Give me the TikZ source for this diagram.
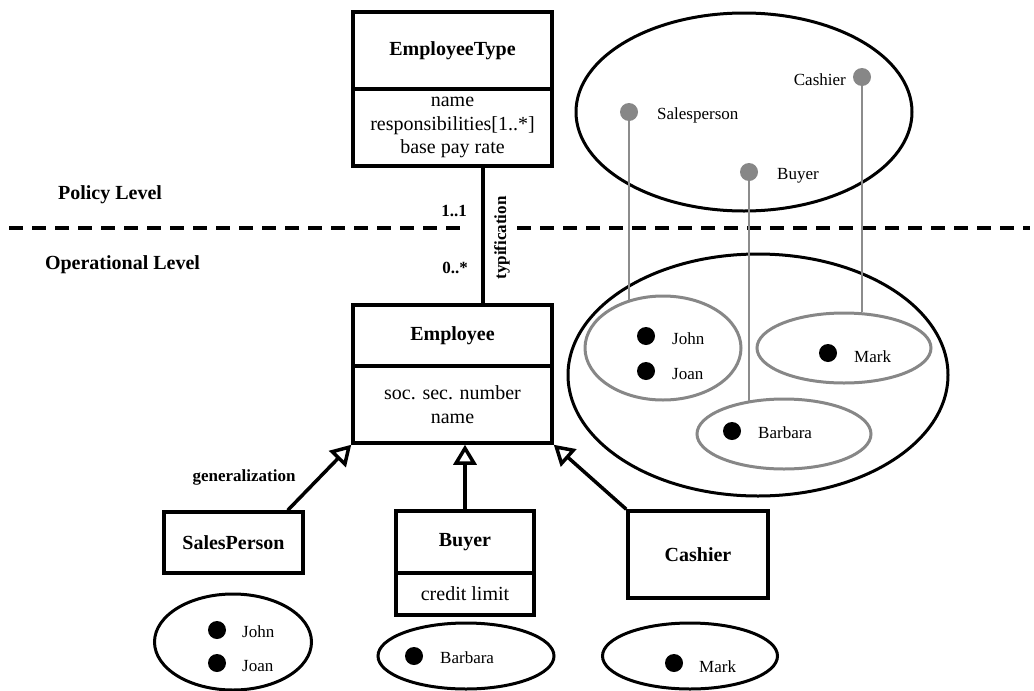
\documentclass[tikz,border=0pt]{standalone}
\usepackage{fontspec}
\setmainfont{Liberation Serif}
\usetikzlibrary{shapes.geometric,arrows.meta,calc}
\definecolor{setgray}{gray}{0.53}
\definecolor{linkgray}{gray}{0.55}
\begin{document}
\begin{tikzpicture}[x=1pt,y=-1pt,
  clshead/.style={draw, line width=3.5pt, inner sep=0pt, font=\bfseries\fontsize{20}{24}\selectfont},
  clsattr/.style={draw, line width=3.5pt, inner sep=0pt, align=center, font=\fontsize{20}{23.5}\selectfont},
  levellbl/.style={font=\bfseries\fontsize{20}{24}\selectfont},
  lbl/.style={font=\bfseries\fontsize{17}{20}\selectfont, inner sep=0pt},
  inst/.style={font=\fontsize{17}{20}\selectfont, inner sep=0pt, anchor=west},
  obj/.style={circle, fill=black, minimum size=18pt, inner sep=0pt},
  typeobj/.style={circle, fill=setgray, minimum size=18pt, inner sep=0pt},
  setell/.style={ellipse, draw, line width=3pt, inner sep=0pt},
  subset/.style={ellipse, draw=setgray, line width=3pt, inner sep=0pt},
  levelline/.style={line width=4.5pt, dash pattern=on 14pt off 9pt},
  assoc/.style={line width=3.5pt},
  gen/.style={line width=3.5pt, -{Triangle[open, length=20pt, width=23pt]}},
  link/.style={draw=linkgray, line width=1.2pt}]
\useasboundingbox (0,0) rectangle (1034,691);

% policy / operational separator
\draw[levelline] (9,228) -- (466,228);
\draw[levelline] (517,228) -- (1030,228);
\node[levellbl] (policy) at (110,195) {Policy Level};
\node[levellbl] (oper) at (122.5,265) {Operational Level};

% classes
\node[clshead, minimum width=199pt, minimum height=77pt] (ethead) at (452.5,50.5) {EmployeeType};
\node[clsattr, minimum width=199pt, minimum height=77pt] (etattr) at (452.5,127.5)
  {name\\responsibilities[1..*]\\base pay rate};
\node[clshead, minimum width=199pt, minimum height=61pt] (emp) at (452.5,335.5) {Employee};
\node[clsattr, minimum width=199pt, minimum height=77pt] (empattr) at (452.5,404.5)
  {soc. sec. number\\name};
\node[clshead, minimum width=139pt, minimum height=61pt] (sp) at (233.5,542.5) {SalesPerson};
\node[clshead, minimum width=138pt, minimum height=62pt] (buyer) at (465,542) {Buyer};
\node[clsattr, minimum width=138pt, minimum height=42pt] (buyerattr) at (465,594) {credit limit};
\node[clshead, minimum width=140pt, minimum height=87pt] (cashier) at (698,554.5) {Cashier};

% typification association
\draw[assoc] ([xshift=30.5pt]etattr.south) -- ([xshift=30.5pt]emp.north);
\node[lbl] (mult11) at (454,211) {1..1};
\node[lbl] (mult0n) at (455,268) {0..*};
\node[lbl, rotate=90] (typ) at (502,238) {typification};

% generalizations
\draw[gen] ([xshift=-17pt]sp.north east) -- (empattr.south west);
\draw[gen] (buyer.north) -- (buyer.north |- empattr.south);
\draw[gen] (cashier.north west) -- (empattr.south east);
\node[lbl] (genlbl) at (244,477) {generalization};

% set of employee types
\node[setell, minimum width=336pt, minimum height=198pt] (typeset) at (744,112) {};
\node[typeobj] (sdot) at (629,112) {};
\node[typeobj] (cdot) at (862,77) {};
\node[typeobj] (bdot) at (749,172) {};
\node[inst] (slbl) at (657,115) {Salesperson};
\node[inst, anchor=east] (clbl) at (846,80) {Cashier};
\node[inst] (blbl) at (777,176) {Buyer};

% set of employees partitioned by type
\node[setell, minimum width=380pt, minimum height=242pt] (opset) at (758,375) {};
\node[subset, minimum width=156pt, minimum height=104pt] (jjset) at (663,348) {};
\node[subset, minimum width=174pt, minimum height=70pt] (markset) at (844,348) {};
\node[subset, minimum width=174pt, minimum height=70pt] (barbset) at (784,434) {};
\node[obj] (johndot) at (646,336) {};
\node[obj] (joandot) at (646,371) {};
\node[obj] (markdot) at (828,353) {};
\node[obj] (barbdot) at (732,431) {};
\node[inst] (johnlbl) at (672,339) {John};
\node[inst] (joanlbl) at (672,374) {Joan};
\node[inst] (marklbl) at (854,357) {Mark};
\node[inst] (barblbl) at (758,433) {Barbara};

\draw[link] (sdot.south) -- (sdot |- jjset.126);
\draw[link] (bdot.south) -- (bdot |- barbset.137.6);
\draw[link] (cdot.south) -- (cdot |- markset.62);

% instances of each subclass
\node[setell, minimum width=157pt, minimum height=96pt] (spset) at (233,642) {};
\node[setell, minimum width=176pt, minimum height=66pt] (bset) at (466,656) {};
\node[setell, minimum width=175pt, minimum height=66pt] (cset) at (690,656) {};
\node[obj] (spjohn) at (217,630) {};
\node[obj] (spjoan) at (217,663) {};
\node[obj] (bbarb) at (414,656) {};
\node[obj] (cmark) at (674,663) {};
\node[inst] (spjohnlbl) at (242,632) {John};
\node[inst] (spjoanlbl) at (242,666) {Joan};
\node[inst] (bbarblbl) at (440,658) {Barbara};
\node[inst] (cmarklbl) at (699,667) {Mark};
\end{tikzpicture}
\end{document}
